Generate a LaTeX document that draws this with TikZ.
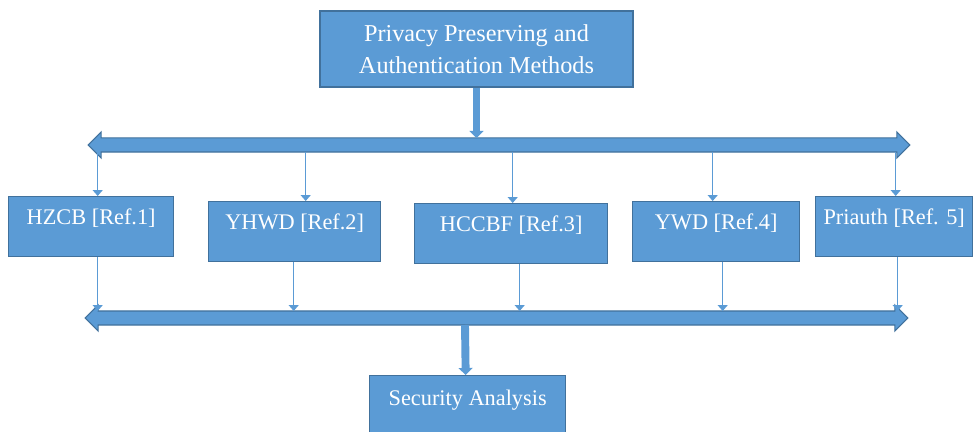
\documentclass[tikz,border=0pt]{standalone}
\usepackage{fontspec}
\setmainfont{Liberation Serif}
\usetikzlibrary{arrows.meta,calc,shapes.arrows}
\definecolor{boxblue}{HTML}{5B9BD5}
\definecolor{bordblue}{HTML}{41719C}
\tikzset{
  refbox/.style={draw=bordblue, fill=boxblue, text=white, line width=0.8pt,
    inner sep=0pt, text height=16pt, text depth=18pt, anchor=north west,
    font=\fontsize{12.7}{16}\selectfont},
  hbar/.style={double arrow, draw=bordblue, fill=boxblue, line width=0.6pt,
    inner sep=0pt, text height=0.13cm, text depth=0.13cm, double arrow head extend=0.12cm},
  thinarrow/.style={boxblue, line width=0.7pt, -{Triangle[length=3.4pt,width=5.7pt]}},
  bigarrow/.style={boxblue, line width=4.5pt, -{Triangle[length=4pt,width=8pt]}}
}
\begin{document}
\begin{tikzpicture}[x=0.02cm, y=-0.02cm]
  \clip (0,0) rectangle (974,432);
  % top and bottom boxes
  \node[refbox, anchor=center, align=center, minimum width=6.26cm, minimum height=1.52cm,
        text height=, text depth=, font=\fontsize{13.8}{18}\selectfont] (methods) at (476.5,49)
        {Privacy Preserving and\\Authentication Methods};
  \node[refbox, minimum width=3.92cm, text height=17pt, text depth=40pt] (security) at (369,375) {Security Analysis};
  % the two bars
  \node[hbar, minimum height=16.44cm] (bartop) at (499,145) {};
  \node[hbar, minimum height=16.46cm] (barbot) at (496.5,318) {};
  % the five methods
  \node[refbox, minimum width=3.30cm] (b1) at (8,196) {HZCB [Ref.1]};
  \node[refbox, minimum width=3.44cm] (b2) at (208,201) {YHWD [Ref.2]};
  \node[refbox, minimum width=3.86cm] (b3) at (414,203) {HCCBF [Ref.3]};
  \node[refbox, minimum width=3.34cm] (b4) at (632,201) {YWD [Ref.4]};
  \node[refbox, minimum width=3.14cm] (b5) at (815,196) {Priauth [Ref. 5]};
  \foreach \b/\i/\o in {b1/6.5/6.5, b2/11/-1, b3/1.5/8.5, b4/-3.5/6.5, b5/1.5/3.5}{
    \draw[thinarrow] ($(bartop.center -| \b.north)+(\i,7)$) -- ($(\b.north)+(\i,0)$);
    \draw[thinarrow] ($(\b.south)+(\o,0)$) -- ($(barbot.center -| \b.south)+(\o,-7)$);}
  \draw[bigarrow] (methods.south) -- ($(bartop.center -| methods.south)+(0,-7)$);
  \draw[bigarrow] ($(barbot.center)+(-31.5,7)$) -- ($(security.north)+(-2,0)$);
\end{tikzpicture}
\end{document}
